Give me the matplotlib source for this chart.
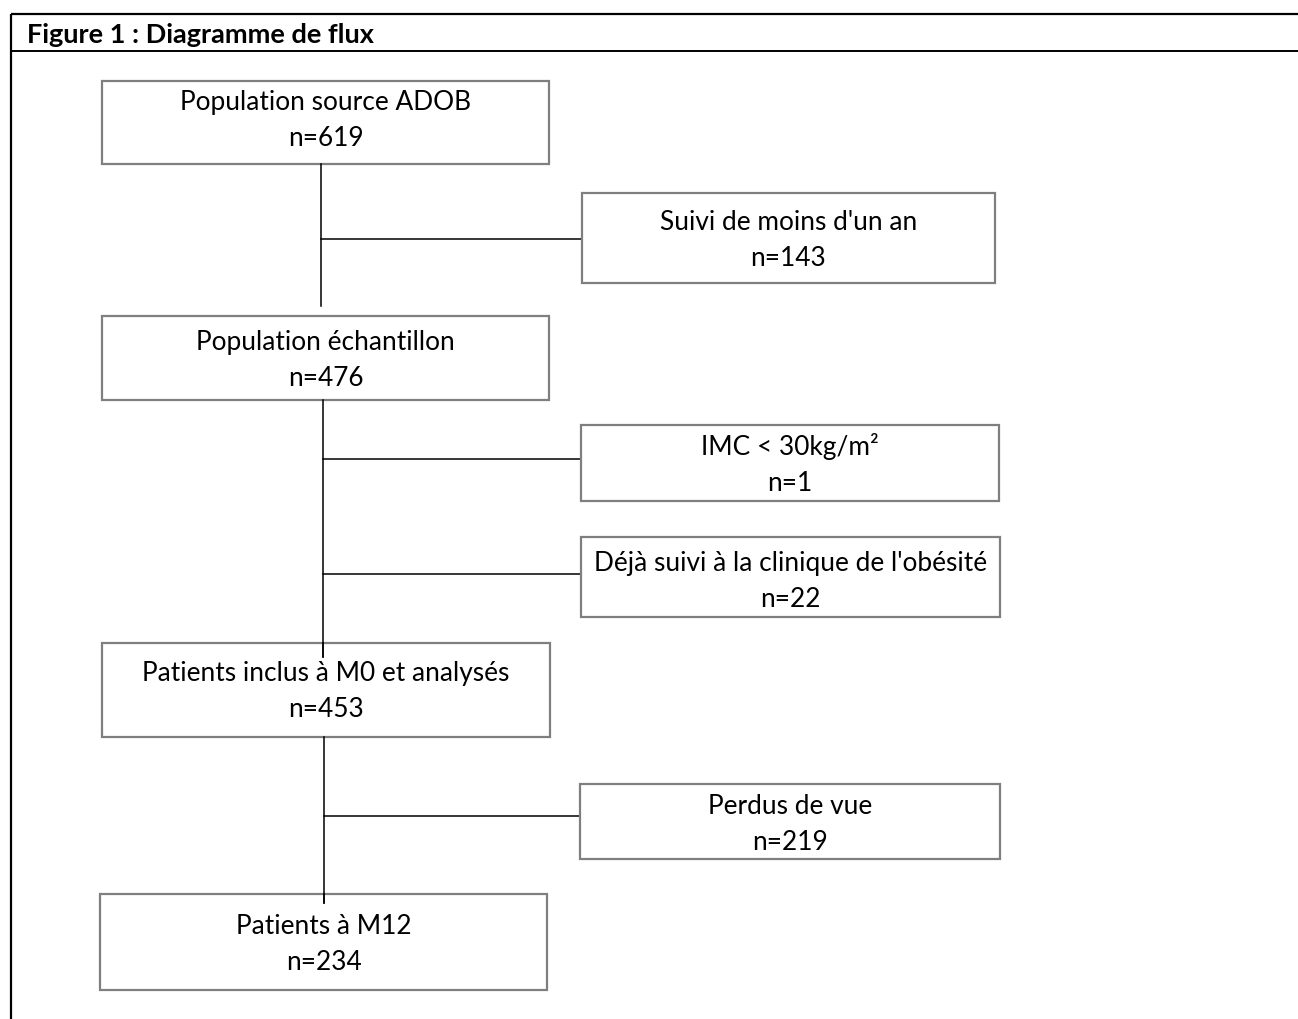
import matplotlib
matplotlib.use("Agg")
import matplotlib.pyplot as plt
from matplotlib.patches import Rectangle

# ---- data ----
title = "Figure 1 : Diagramme de flux"
stage_labels = ["Population source ADOB", "Population échantillon",
                "Patients inclus à M0 et analysés", "Patients à M12"]
stage_counts = [619, 476, 453, 234]
excl_labels = ["Suivi de moins d'un an", "IMC < 30kg/m²",
               "Déjà suivi à la clinique de l'obésité", "Perdus de vue"]
excl_counts = [143, 1, 22, 219]
excl_after_stage = [0, 1, 1, 2]   # exclusion attached to the trunk below this stage

# ---- layout (pixel coordinates, y downward) ----
W, H = 1298, 1019
stage_boxes = [(102, 81, 549, 164), (102, 316, 549, 400),
               (102, 643, 550, 737), (100, 894, 547, 990)]
stage_baselines = [(110, 146), (350, 386), (681, 717), (934, 970)]
excl_boxes = [(582, 193, 995, 283), (581, 425, 999, 501),
              (581, 537, 1000, 617), (580, 784, 1000, 859)]
excl_baselines = [(230, 266), (455, 491), (571, 607), (814, 850)]
trunk_x = [321, 323, 324]
trunk_end = [306, 657, 903]
branch_y = [239, 459, 574, 816]

FONT = ["Lato", "DejaVu Sans"]
FS = 18.9

fig = plt.figure(figsize=(W / 100, H / 100), dpi=100)
ax = fig.add_axes([0, 0, 1, 1])
ax.set_xlim(0, W)
ax.set_ylim(H, 0)
ax.axis("off")

# outer frame / header
ax.plot([11, 11], [14, H], color="black", lw=1.6, solid_capstyle="butt")
ax.plot([11, W], [14, 14], color="black", lw=1.6, solid_capstyle="butt")
ax.plot([11, W], [50.5, 50.5], color="black", lw=1.4, solid_capstyle="butt")
ax.text(27, 43, title, fontsize=19.5, fontweight="bold", family=FONT,
        ha="left", va="baseline")

box_kw = dict(facecolor="white", edgecolor="#7f7f7f", lw=1.6, zorder=3)

# trunk lines and branches
for i in range(3):
    y0 = stage_boxes[i][3]
    ax.plot([trunk_x[i], trunk_x[i]], [y0, trunk_end[i]], color="black", lw=1.1, zorder=4)
for j, s in enumerate(excl_after_stage):
    ax.plot([trunk_x[s], excl_boxes[j][0]], [branch_y[j], branch_y[j]],
            color="black", lw=1.1, zorder=2)

def draw_box(b, bl, label, n):
    x0, y0, x1, y1 = b
    ax.add_patch(Rectangle((x0, y0), x1 - x0, y1 - y0, **box_kw))
    cx = (x0 + x1) / 2
    ax.text(cx, bl[0], label, fontsize=FS, family=FONT, ha="center", va="baseline", zorder=5)
    ax.text(cx, bl[1], f"n={n}", fontsize=FS, family=FONT, ha="center", va="baseline", zorder=5)

for b, bl, lab, n in zip(stage_boxes, stage_baselines, stage_labels, stage_counts):
    draw_box(b, bl, lab, n)
for b, bl, lab, n in zip(excl_boxes, excl_baselines, excl_labels, excl_counts):
    draw_box(b, bl, lab, n)

# trunk line segments that overlap the top of next box
for i in range(3):
    nb = stage_boxes[i + 1]
    if trunk_end[i] > nb[1]:
        ax.plot([trunk_x[i], trunk_x[i]], [nb[1], trunk_end[i]], color="black", lw=1.1, zorder=6)

fig.savefig("out.png", dpi=100)
